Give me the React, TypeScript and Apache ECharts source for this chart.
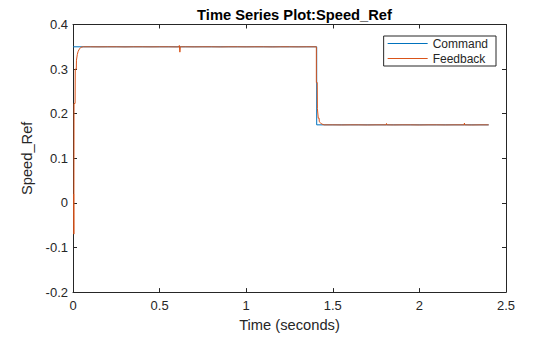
import React, { useEffect, useRef } from "react";
import * as echarts from "echarts";

const titleText = "Time Series Plot:Speed_Ref";
const xName = "Time (seconds)";
const yName = "Speed_Ref";
const seriesNames = ["Command", "Feedback"];

const commandT = [0, 1.407, 1.407, 2.4];
const commandY = [0.35, 0.35, 0.175, 0.175];

const feedbackT = [
  0.004, 0.005, 0.006, 0.012, 0.013, 0.019, 0.02, 0.025, 0.03, 0.037, 0.046, 0.06,
  0.1, 0.15, 0.2, 0.25, 0.3, 0.35, 0.4, 0.45, 0.5, 0.55, 0.6, 0.612, 0.614, 0.617,
  0.62, 0.65, 0.7, 0.75, 0.8, 0.85, 0.9, 0.95, 1.0, 1.05, 1.1, 1.15, 1.2, 1.25,
  1.3, 1.35, 1.405, 1.405, 1.41, 1.411, 1.415, 1.416, 1.421, 1.422, 1.428, 1.435,
  1.45, 1.5, 1.55, 1.6, 1.65, 1.7, 1.75, 1.809, 1.81, 1.811, 1.85, 1.9, 1.95, 2.0,
  2.05, 2.1, 2.15, 2.2, 2.259, 2.26, 2.261, 2.3, 2.35, 2.4,
];
const feedbackY = [
  0.02, -0.07, 0.223, 0.223, 0.3, 0.3, 0.32, 0.333, 0.34, 0.345, 0.349, 0.35,
  0.35, 0.3498, 0.35, 0.35, 0.3497, 0.35, 0.35, 0.3498, 0.35, 0.35, 0.3497, 0.35, 0.353, 0.338,
  0.35, 0.35, 0.3498, 0.35, 0.35, 0.3497, 0.35, 0.35, 0.3498, 0.35, 0.35, 0.3497, 0.35, 0.35,
  0.3498, 0.35, 0.35, 0.27, 0.27, 0.212, 0.212, 0.19, 0.19, 0.182, 0.18, 0.177,
  0.175, 0.175, 0.1748, 0.175, 0.175, 0.1747, 0.175, 0.175, 0.178, 0.175, 0.1748, 0.175, 0.175, 0.1747,
  0.175, 0.175, 0.1748, 0.175, 0.175, 0.179, 0.175, 0.1747, 0.175, 0.175,
];

const xTicks = [0, 0.5, 1, 1.5, 2, 2.5];
const yTicks = [-0.2, -0.1, 0, 0.1, 0.2, 0.3, 0.4];

const TEXT = "#262626";
const FONT = "Liberation Sans, Arial, Helvetica, sans-serif";

export default function App() {
  const ref = useRef<HTMLDivElement>(null);
  useEffect(() => {
    if (!ref.current) return;
    const chart = echarts.init(ref.current, undefined, { renderer: "svg" });
    const axisCommon = {
      axisLine: { show: true, onZero: false, lineStyle: { color: TEXT, width: 1 } },
      axisTick: { show: true, inside: true, length: 4, lineStyle: { color: TEXT, width: 1 } },
      splitLine: { show: false },
    };
    chart.setOption({
      animation: false,
      textStyle: { fontFamily: FONT },
      title: {
        text: titleText,
        left: 289.5,
        textAlign: "center",
        top: 2,
        textStyle: { fontSize: 14.7, fontWeight: "bold", color: "#000", fontFamily: FONT },
      },
      legend: {
        orient: "vertical",
        right: 64,
        top: 36,
        itemWidth: 40,
        itemHeight: 1.2,
        itemGap: 2,
        itemTextGap: 4,
        icon: "rect",
        padding: [1, 8, 1, 4],
        borderColor: TEXT,
        borderWidth: 1,
        borderRadius: 0,
        backgroundColor: "#fff",
        data: seriesNames,
        textStyle: { fontSize: 12, color: TEXT, lineHeight: 13, fontFamily: FONT },
      },
      grid: { left: 73, right: 54, top: 24.5, bottom: 39, containLabel: false },
      xAxis: [
        {
          type: "value",
          min: xTicks[0],
          max: xTicks[xTicks.length - 1],
          interval: 0.5,
          name: xName,
          nameLocation: "middle",
          nameGap: 24,
          nameTextStyle: { fontSize: 14.7, color: TEXT, fontFamily: FONT },
          axisLabel: { color: TEXT, fontSize: 13, margin: 7, fontFamily: FONT },
          ...axisCommon,
        },
        {
          type: "value",
          position: "top",
          min: xTicks[0],
          max: xTicks[xTicks.length - 1],
          interval: 0.5,
          axisLabel: { show: false },
          ...axisCommon,
        },
      ],
      yAxis: [
        {
          type: "value",
          min: yTicks[0],
          max: yTicks[yTicks.length - 1],
          interval: 0.1,
          name: yName,
          nameLocation: "middle",
          nameGap: 32,
          nameTextStyle: { fontSize: 14.7, color: TEXT, fontFamily: FONT },
          axisLabel: {
            color: TEXT,
            fontSize: 13,
            margin: 5,
            fontFamily: FONT,
            formatter: (v: number) => String(Math.round(v * 10) / 10),
          },
          ...axisCommon,
        },
        {
          type: "value",
          position: "right",
          min: yTicks[0],
          max: yTicks[yTicks.length - 1],
          interval: 0.1,
          axisLabel: { show: false },
          ...axisCommon,
        },
      ],
      series: [
        {
          name: seriesNames[0],
          type: "line",
          showSymbol: false,
          symbol: "none",
          color: "#0072BD",
          lineStyle: { width: 1, color: "#0072BD" },
          data: commandT.map((t, i) => [t, commandY[i]]),
        },
        {
          name: seriesNames[1],
          type: "line",
          showSymbol: false,
          symbol: "none",
          color: "#D95319",
          lineStyle: { width: 1, color: "#D95319" },
          data: feedbackT.map((t, i) => [t, feedbackY[i]]),
        },
      ],
    });
    return () => chart.dispose();
  }, []);
  return (
    <div
      ref={ref}
      style={{ position: "fixed", left: 0, top: 0, width: 560, height: 337, background: "#fff" }}
    />
  );
}
